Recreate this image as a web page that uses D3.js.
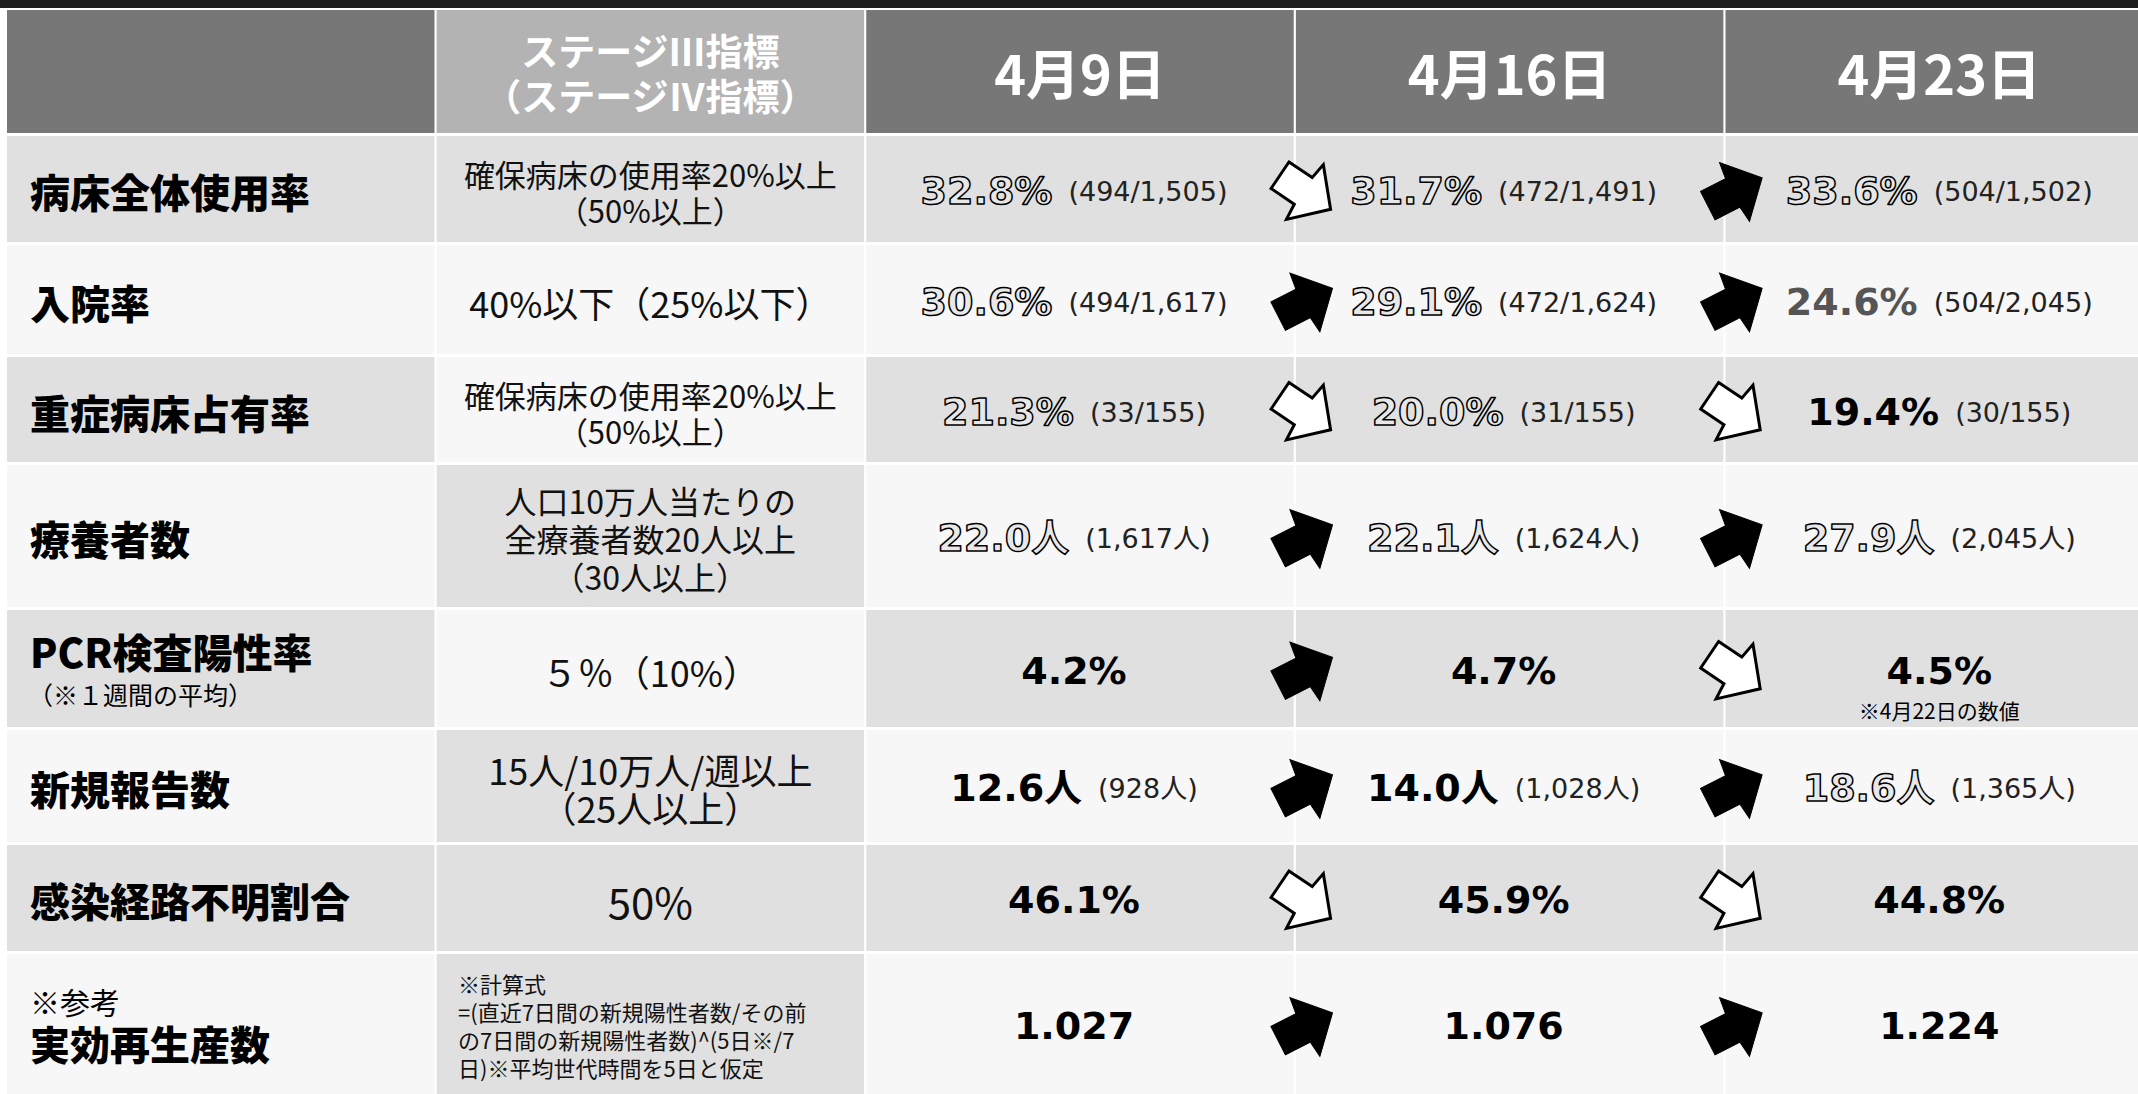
<!DOCTYPE html>
<html>
<head>
<meta charset="utf-8">
<script src="https://cdn.jsdelivr.net/npm/d3@7"></script>
<style>
  body { margin: 0; background: #fff; }
  svg { display: block; }
</style>
</head>
<body>
<div id="table"></div>
<script>
// Table content
const indicators = ["病床全体使用率", "入院率", "重症病床占有率", "療養者数", "PCR検査陽性率", "新規報告数", "感染経路不明割合", "実効再生産数"];
const thresholds = [
    ["確保病床の使用率20%以上", "（50%以上）"],
    ["40%以下（25%以下）"],
    ["確保病床の使用率20%以上", "（50%以上）"],
    ["人口10万人当たりの", "全療養者数20人以上", "（30人以上）"],
    ["５％（10%）"],
    ["15人/10万人/週以上", "（25人以上）"],
    ["50%"],
    ["※計算式", "=(直近7日間の新規陽性者数/その前", "の7日間の新規陽性者数)^(5日※/7", "日)※平均世代時間を5日と仮定"]
];
const stageHeader = ["ステージⅢ指標", "（ステージⅣ指標）"];
const dates = ["4月9日", "4月16日", "4月23日"];

const apr9 = ["32.8%", "30.6%", "21.3%", "22.0人", "4.2%", "12.6人", "46.1%", "1.027"];
const apr9Detail = ["(494/1,505)", "(494/1,617)", "(33/155)", "(1,617人)", "", "(928人)", "", ""];
const apr16 = ["31.7%", "29.1%", "20.0%", "22.1人", "4.7%", "14.0人", "45.9%", "1.076"];
const apr16Detail = ["(472/1,491)", "(472/1,624)", "(31/155)", "(1,624人)", "", "(1,028人)", "", ""];
const apr23 = ["33.6%", "24.6%", "19.4%", "27.9人", "4.5%", "18.6人", "44.8%", "1.224"];
const apr23Detail = ["(504/1,502)", "(504/2,045)", "(30/155)", "(2,045人)", "", "(1,365人)", "", ""];

// how each value is printed: outline, bold, grey
const look9 = ["outline", "outline", "outline", "outline", "bold", "bold", "bold", "bold"];
const look16 = ["outline", "outline", "outline", "outline", "bold", "bold", "bold", "bold"];
const look23 = ["outline", "grey", "bold", "outline", "bold", "outline", "bold", "bold"];

// trend versus previous week
const trend16 = ["down", "up", "down", "up", "up", "up", "down", "up"];
const trend23 = ["up", "up", "down", "up", "down", "up", "down", "up"];

const pcrNote = "（※１週間の平均）";
const rtNote = "※参考";
const apr23PcrNote = "※4月22日の数値";

// Layout
const width = 2138, height = 1094;
const rowHeights = [123, 106, 109, 105, 142, 117, 112, 106, 140];
const rowGap = 3;
const top0 = 10;
const rowTops = rowHeights.map((h, i) => top0 + d3.sum(rowHeights.slice(0, i)) + i * rowGap);
const rowMid = i => rowTops[i + 1] + rowHeights[i + 1] / 2;

const columns = ["label", "stage"].concat(dates);
const x = d3.scaleBand()
    .domain(columns)
    .range([7, 2153])
    .paddingInner(0.005);
const colMid = c => x(c) + x.bandwidth() / 2;

const dark = "#e0e0e0", light = "#f7f7f7";
const rowShade = i => (i % 2 === 0 ? dark : light);
const stageShade = [dark, light, light, dark, light, dark, dark, dark];

const jp = "'Noto Sans CJK JP', 'Noto Sans', sans-serif";
const num = "'DejaVu Sans', 'Noto Sans CJK JP', sans-serif";

const svg = d3.select("#table").append("svg")
    .attr("width", width)
    .attr("height", height);

svg.append("rect").attr("width", width).attr("height", height).attr("fill", "#fff");

// black strip on top
svg.append("rect")
    .attr("x", 0).attr("y", 0)
    .attr("width", width).attr("height", 8)
    .attr("fill", "#1e1e1e");

// Header cells
svg.selectAll(".head")
    .data(columns)
  .enter().append("rect")
    .attr("class", "head")
    .attr("x", d => x(d))
    .attr("y", rowTops[0])
    .attr("width", x.bandwidth())
    .attr("height", rowHeights[0])
    .attr("fill", d => d === "stage" ? "#b3b3b3" : "#777777");

svg.append("text")
    .attr("text-anchor", "middle")
    .attr("dominant-baseline", "central")
    .attr("font-family", jp)
    .attr("font-weight", 700)
    .attr("font-size", "37px")
    .attr("fill", "#fff")
  .selectAll("tspan")
    .data(stageHeader)
  .enter().append("tspan")
    .attr("x", colMid("stage"))
    .attr("y", (d, i) => 50 + i * 45)
    .text(d => d);

svg.selectAll(".dateHead")
    .data(dates)
  .enter().append("text")
    .attr("x", d => colMid(d))
    .attr("y", rowTops[0] + rowHeights[0] / 2)
    .attr("text-anchor", "middle")
    .attr("dominant-baseline", "central")
    .attr("font-family", jp)
    .attr("font-weight", 700)
    .attr("font-size", "54px")
    .attr("fill", "#fff")
    .text(d => d);

// Body cells
indicators.forEach((name, i) => {
    columns.forEach(c => {
        svg.append("rect")
            .attr("x", x(c))
            .attr("y", rowTops[i + 1])
            .attr("width", x.bandwidth())
            .attr("height", rowHeights[i + 1])
            .attr("fill", c === "stage" ? stageShade[i] : rowShade(i));
    });
});

// Row labels (notes go into the same text block)
indicators.forEach((name, i) => {
    const t = svg.append("text")
        .attr("dominant-baseline", "central")
        .attr("font-family", jp)
        .attr("fill", "#000");
    if (i === 7) {
        t.append("tspan")
            .attr("x", 30).attr("y", rowMid(i) - 23)
            .attr("font-size", "30px")
            .text(rtNote);
    }
    t.append("tspan")
        .attr("x", 30)
        .attr("y", rowMid(i) + (i === 4 ? -18 : i === 7 ? 19 : 2))
        .attr("font-weight", 900)
        .attr("font-size", "40px")
        .text(name);
    if (i === 4) {
        t.append("tspan")
            .attr("x", 28).attr("y", rowMid(i) + 25)
            .attr("font-size", "25px")
            .text(pcrNote);
    }
});

// Stage thresholds
const stageSize = [31, 36, 31, 32, 36, 36, 42, 22];
const stageLine = [36, 36, 36, 38, 36, 38, 36, 28];
thresholds.forEach((lines, i) => {
    const last = i === 7;
    svg.append("text")
        .attr("text-anchor", last ? "start" : "middle")
        .attr("dominant-baseline", "central")
        .attr("font-family", jp)
        .attr("font-size", stageSize[i] + "px")
        .attr("fill", "#111")
      .selectAll("tspan")
        .data(lines)
      .enter().append("tspan")
        .attr("x", last ? 458 : colMid("stage"))
        .attr("y", (d, k) => rowMid(i) + (last ? 1 : 2) + (k - (lines.length - 1) / 2) * stageLine[i])
        .text(d => d);
});

// Weekly values
const weeks = [
    { date: dates[0], value: apr9, detail: apr9Detail, look: look9 },
    { date: dates[1], value: apr16, detail: apr16Detail, look: look16 },
    { date: dates[2], value: apr23, detail: apr23Detail, look: look23 }
];

weeks.forEach(w => {
    w.value.forEach((v, i) => {
        const t = svg.append("text")
            .attr("x", colMid(w.date) + (w.date === dates[0] ? -6 : w.date === dates[1] ? -6 : 0))
            .attr("y", rowMid(i) + 2)
            .attr("text-anchor", "middle")
            .attr("dominant-baseline", "central");

        const main = t.append("tspan")
            .attr("font-family", num)
            .attr("font-weight", 700)
            .attr("font-size", "38px")
            .text(v);
        if (w.look[i] === "outline") {
            main.attr("fill", "#e8e8e8")
                .attr("stroke", "#000")
                .attr("stroke-width", 1.5)
                .attr("stroke-linejoin", "round");
        } else {
            main.attr("fill", w.look[i] === "grey" ? "#555" : "#000");
        }

        if (w.detail[i]) {
            t.append("tspan")
                .attr("dx", 16)
                .attr("font-family", num)
                .attr("font-size", "27px")
                .attr("fill", "#222")
                .text(w.detail[i]);
        }
    });
});

svg.append("text")
    .attr("x", colMid(dates[2]))
    .attr("y", rowMid(4) + 41)
    .attr("text-anchor", "middle")
    .attr("dominant-baseline", "central")
    .attr("font-family", jp)
    .attr("font-size", "21px")
    .attr("fill", "#000")
    .text(apr23PcrNote);

// Trend arrows
const arrowShape = [[-30, -16], [-2, -16], [0, -33], [31, 0], [0, 33], [-2, 16], [-30, 16]];
const arrowPath = d3.line().curve(d3.curveLinearClosed)(arrowShape);

[{ date: dates[1], trend: trend16 }, { date: dates[2], trend: trend23 }].forEach(s => {
    svg.selectAll(".arrow" + s.date)
        .data(s.trend)
      .enter().append("path")
        .attr("d", arrowPath)
        .attr("transform", (d, i) => "translate(" + (x(s.date) + 9) + "," + (rowMid(i) + 3) + ") rotate(" + (d === "up" ? -27 : 34) + ")")
        .attr("fill", d => d === "up" ? "#000" : "#fff")
        .attr("stroke", "#000")
        .attr("stroke-width", d => d === "up" ? 1 : 3)
        .attr("stroke-linejoin", "miter");
});
</script>
</body>
</html>
